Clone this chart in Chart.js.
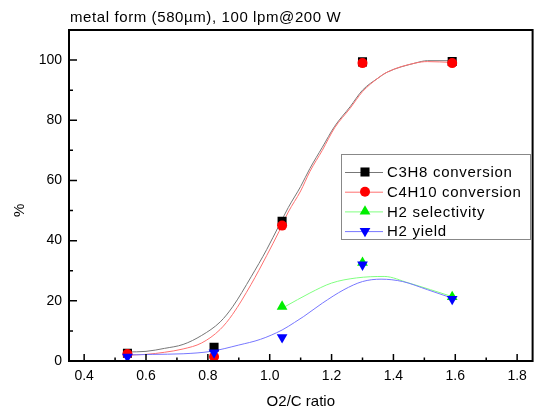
<!DOCTYPE html>
<html>
<head>
<meta charset="utf-8">
<script src="https://cdn.jsdelivr.net/npm/chart.js@4.4.1/dist/chart.umd.min.js"></script>
<style>
  html, body { margin: 0; padding: 0; background: #fff; }
  canvas { display: block; }
</style>
</head>
<body>
<canvas id="grafico" width="539" height="411"></canvas>
<script>
// puntos medidos
const ratioO2C = [0.54, 0.82, 1.04, 1.30, 1.59];
const convC3H8 = [2.6, 4.6, 46.4, 99.4, 99.5];
const convC4H10 = [2.3, 1.4, 45, 99, 99];
const selecH2 = [null, null, 18.1, 32.7, 21.3];
const yieldH2 = [1.4, 2.8, 7.9, 32, 20.6];

// curvas de ajuste
const ajusteConvX = [0.54, 0.60, 0.66, 0.72, 0.78, 0.84, 0.88, 0.94, 0.99, 1.03, 1.06, 1.10, 1.13, 1.17, 1.21, 1.26, 1.30, 1.35, 1.38, 1.47, 1.51, 1.59];
const ajusteC3H8 = [3, 3.2, 4.2, 5.5, 8.5, 13, 18, 28, 37, 45, 51, 58, 64, 71, 78, 84.5, 90, 94, 96, 99, 99.8, 99.8];
const ajusteC4H10 = [2, 2.2, 2.9, 4, 6, 10.5, 15.5, 25.5, 35, 43, 49.5, 56.5, 63, 70, 77.5, 84, 89.5, 94, 96, 99, 99.5, 99.2];
const ajusteSelecX = [1.05, 1.13, 1.20, 1.28, 1.37, 1.45, 1.52, 1.59];
const ajusteSelec = [18.1, 22.6, 25.9, 27.6, 28.1, 25.9, 23.7, 21.4];
const ajusteYieldX = [0.54, 0.62, 0.72, 0.81, 0.90, 0.97, 1.04, 1.08, 1.11, 1.17, 1.24, 1.30, 1.36, 1.43, 1.51, 1.59];
const ajusteYield = [2, 2.2, 2.4, 3.2, 5.3, 7.2, 10.3, 12.8, 14.8, 19.2, 23.7, 26.4, 27.2, 26.4, 23.7, 20.9];

const ticksX = [0.4, 0.6, 0.8, 1.0, 1.2, 1.4, 1.6, 1.8];
const ticksY = [0, 20, 40, 60, 80, 100];
const etiquetas = ['C3H8 conversion', 'C4H10 conversion', 'H2 selectivity', 'H2 yield'];

const fuente = 'Liberation Sans, Arial, sans-serif';
const titulo = 'metal form (580\u00b5m), 100 lpm@200 W';

// color del marcador, color de la linea, forma
const series = [
    { marca: '#000000', linea: '#777777', forma: 'rect', radio: 6.4, rot: 0 },
    { marca: '#ff0000', linea: '#ff7070', forma: 'circle', radio: 5, rot: 0 },
    { marca: '#00ee00', linea: '#80ff80', forma: 'triangle', radio: 6.2, rot: 0 },
    { marca: '#0000ff', linea: '#7777ff', forma: 'triangle', radio: 6.2, rot: 180 }
];

function puntos(xs, ys) {
    return xs.map((x, i) => ({ x: x, y: ys[i] })).filter(p => p.y !== null);
}

function marcador(i, ys, orden) {
    const s = series[i];
    return {
        label: etiquetas[i],
        data: puntos(ratioO2C, ys),
        showLine: false,
        pointStyle: s.forma,
        pointRotation: s.rot,
        pointRadius: s.radio,
        pointBackgroundColor: s.marca,
        pointBorderColor: s.marca,
        pointBorderWidth: 0,
        order: orden
    };
}

function curva(i, xs, ys, orden) {
    return {
        label: etiquetas[i] + ' fit',
        data: puntos(xs, ys),
        showLine: true,
        borderColor: series[i].linea,
        borderWidth: 1,
        pointRadius: 0,
        cubicInterpolationMode: 'monotone',
        order: orden
    };
}

function dibujarMarca(ctx, i, x, y) {
    const s = series[i];
    ctx.fillStyle = s.marca;
    ctx.beginPath();
    if (s.forma === 'rect') {
        const m = s.radio * Math.SQRT1_2;
        ctx.rect(x - m, y - m, 2 * m, 2 * m);
    } else if (s.forma === 'circle') {
        ctx.arc(x, y, s.radio, 0, 2 * Math.PI);
    } else {
        const r = s.radio, d = s.rot ? -1 : 1;
        ctx.moveTo(x, y - d * r);
        ctx.lineTo(x + r * 0.866, y + d * r / 2);
        ctx.lineTo(x - r * 0.866, y + d * r / 2);
        ctx.closePath();
    }
    ctx.fill();
}

const marco = {
    id: 'marco',
    afterDraw(chart) {
        const ctx = chart.ctx;
        const a = chart.chartArea;
        const ex = chart.scales.x, ey = chart.scales.y;
        ctx.save();

        // marco y ticks hacia dentro
        ctx.strokeStyle = '#000';
        ctx.lineWidth = 2;
        ctx.strokeRect(a.left, a.top, a.right - a.left, a.bottom - a.top);
        ctx.lineWidth = 1.5;
        ctx.beginPath();
        ticksX.forEach((v, i) => {
            let px = ex.getPixelForValue(v);
            ctx.moveTo(px, a.bottom); ctx.lineTo(px, a.bottom - 7);
            if (i < ticksX.length - 1) {
                px = ex.getPixelForValue((v + ticksX[i + 1]) / 2);
                ctx.moveTo(px, a.bottom); ctx.lineTo(px, a.bottom - 3.5);
            }
        });
        ticksY.forEach((v, i) => {
            let py = ey.getPixelForValue(v);
            ctx.moveTo(a.left, py); ctx.lineTo(a.left + 8, py);
            if (i < ticksY.length - 1) {
                py = ey.getPixelForValue((v + ticksY[i + 1]) / 2);
                ctx.moveTo(a.left, py); ctx.lineTo(a.left + 4, py);
            }
        });
        ctx.stroke();

        // titulo
        ctx.fillStyle = '#000';
        ctx.font = '15px ' + fuente;
        ctx.letterSpacing = '0.6px';
        ctx.textBaseline = 'alphabetic';
        ctx.textAlign = 'left';
        ctx.fillText(titulo, a.left + 1, 22);

        // titulo eje y
        ctx.save();
        ctx.translate(24, 210);
        ctx.rotate(-Math.PI / 2);
        ctx.textAlign = 'center';
        ctx.fillText('%', 0, 0);
        ctx.restore();

        // leyenda
        const lx = 341, ly = 154, lw = 189, lh = 85;
        ctx.fillStyle = '#fff';
        ctx.fillRect(lx, ly, lw, lh);
        ctx.strokeStyle = '#888';
        ctx.lineWidth = 1;
        ctx.strokeRect(lx + 0.5, ly + 0.5, lw, lh);
        ctx.letterSpacing = '0.7px';
        ctx.textBaseline = 'middle';
        etiquetas.forEach((t, i) => {
            const y = ly + 18 + i * 19.7;
            ctx.strokeStyle = series[i].linea;
            ctx.beginPath();
            ctx.moveTo(345, y + 0.5); ctx.lineTo(383, y + 0.5);
            ctx.stroke();
            dibujarMarca(ctx, i, 365, y);
            ctx.fillStyle = '#000';
            ctx.fillText(t, 387, y + 1);
        });
        ctx.restore();
    }
};

new Chart(document.getElementById('grafico'), {
    type: 'scatter',
    data: {
        datasets: [
            marcador(3, yieldH2, 0),
            marcador(2, selecH2, 1),
            marcador(1, convC4H10, 2),
            marcador(0, convC3H8, 3),
            curva(3, ajusteYieldX, ajusteYield, 4),
            curva(2, ajusteSelecX, ajusteSelec, 5),
            curva(1, ajusteConvX, ajusteC4H10, 6),
            curva(0, ajusteConvX, ajusteC3H8, 7)
        ]
    },
    options: {
        responsive: false,
        animation: false,
        events: [],
        layout: { padding: { top: 30, right: 4, left: 0, bottom: 0 } },
        plugins: { legend: { display: false }, tooltip: { enabled: false } },
        scales: {
            x: {
                type: 'linear',
                min: 0.351,
                max: 1.85,
                afterFit: s => { s.height = 50; },
                afterBuildTicks: s => { s.ticks = ticksX.map(v => ({ value: v })); },
                grid: { display: false, drawTicks: false },
                border: { display: false },
                ticks: {
                    callback: v => v.toFixed(1),
                    font: { family: fuente, size: 14 },
                    color: '#000',
                    padding: 7,
                    maxRotation: 0,
                    autoSkip: false
                },
                title: {
                    display: true,
                    text: 'O2/C ratio',
                    font: { family: fuente, size: 15 },
                    color: '#000',
                    padding: { top: 0, bottom: 0 }
                }
            },
            y: {
                type: 'linear',
                min: 0,
                max: 110,
                afterFit: s => { s.width = 69; },
                afterBuildTicks: s => { s.ticks = ticksY.map(v => ({ value: v })); },
                grid: { display: false, drawTicks: false },
                border: { display: false },
                ticks: {
                    font: { family: fuente, size: 14 },
                    color: '#000',
                    padding: 7
                }
            }
        }
    },
    plugins: [marco]
});
</script>
</body>
</html>
